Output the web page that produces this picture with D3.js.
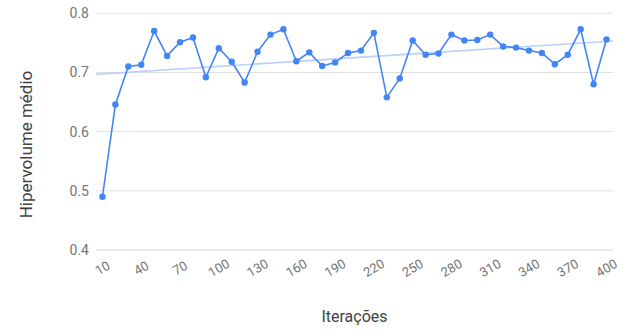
<!DOCTYPE html>
<html>
<head>
<meta charset="utf-8">
<script src="https://cdn.jsdelivr.net/npm/d3@7"></script>
<style>
  html, body { margin: 0; padding: 0; background: #fff; }
  svg { display: block; font-family: Roboto, "Noto Sans", Arial, sans-serif; }
</style>
</head>
<body>
<svg id="chart" width="626" height="331"></svg>
<script>
// Iteration counts (x categories)
const iterations = d3.range(10, 401, 10);

// Mean hypervolume per iteration
const hypervolume = [
  0.490, 0.646, 0.710, 0.713, 0.770, 0.728, 0.751, 0.759, 0.692, 0.741,
  0.718, 0.683, 0.735, 0.764, 0.773, 0.719, 0.734, 0.711, 0.717, 0.733,
  0.737, 0.767, 0.658, 0.690, 0.754, 0.730, 0.732, 0.764, 0.754, 0.755,
  0.764, 0.744, 0.742, 0.737, 0.733, 0.714, 0.730, 0.773, 0.680, 0.756
];

// Labels shown on the x axis (every third category)
const xTickLabels = [10, 40, 70, 100, 130, 160, 190, 220, 250, 280, 310, 340, 370, 400];

// Y axis ticks
const yTicks = [0.4, 0.5, 0.6, 0.7, 0.8];

const svg = d3.select("#chart");
const plot = { left: 96, right: 613, top: 13.3, bottom: 250 };

const x = d3.scaleBand().domain(iterations).range([plot.left, plot.right]);
const cx = d => x(d) + x.bandwidth() / 2;
const y = d3.scaleLinear().domain([0.4, 0.8]).range([plot.bottom, plot.top]);

// Gridlines
svg.append("g").selectAll("line").data(yTicks).join("line")
  .attr("x1", plot.left).attr("x2", plot.right)
  .attr("y1", d => y(d)).attr("y2", d => y(d))
  .attr("stroke", d => d === 0.4 ? "#d6d6d6" : "#e0e0e0")
  .attr("stroke-width", 1);

// Y axis labels
const yAxis = d3.axisLeft(y).tickValues(yTicks).tickFormat(d3.format(".1f")).tickSize(0).tickPadding(7);
const gy = svg.append("g").attr("transform", `translate(${plot.left},0)`).call(yAxis);
gy.select(".domain").remove();
gy.selectAll("text").attr("fill", "#757575").style("font-size", "14px")
  .style("font-family", "Roboto, sans-serif");

// X axis labels, slanted
const gx = svg.append("g");
gx.selectAll("text").data(xTickLabels).join("text")
  .attr("transform", d => `translate(${cx(d)},${268}) rotate(-30)`)
  .attr("text-anchor", "middle")
  .attr("dy", "0.35em")
  .attr("fill", "#757575")
  .style("font-size", "13px")
  .text(d => d);

// Linear trend (least squares over category index)
const n = hypervolume.length;
const idx = d3.range(n);
const mx = d3.mean(idx), my = d3.mean(hypervolume);
const slope = d3.sum(idx, i => (i - mx) * (hypervolume[i] - my)) / d3.sum(idx, i => (i - mx) ** 2);
const intercept = my - slope * mx;
const idxToX = d3.scaleLinear().domain([0, n - 1]).range([cx(iterations[0]), cx(iterations[n - 1])]);
const xToIdx = idxToX.invert;
svg.append("line")
  .attr("x1", plot.left).attr("x2", plot.right)
  .attr("y1", y(intercept + slope * xToIdx(plot.left)))
  .attr("y2", y(intercept + slope * xToIdx(plot.right)))
  .attr("stroke", "#b9d2fa").attr("stroke-width", 1.6);

// Series line
const data = iterations.map((it, i) => ({ it, v: hypervolume[i] }));
svg.append("path").datum(data)
  .attr("fill", "none").attr("stroke", "#4285f4").attr("stroke-width", 1.6)
  .attr("d", d3.line().x(d => cx(d.it)).y(d => y(d.v)));

// Points
svg.append("g").selectAll("circle").data(data).join("circle")
  .attr("cx", d => cx(d.it)).attr("cy", d => y(d.v)).attr("r", 3.2)
  .attr("fill", "#4285f4");

// Axis titles
svg.append("text")
  .attr("x", (plot.left + plot.right) / 2).attr("y", 322)
  .attr("text-anchor", "middle").attr("fill", "#424242")
  .style("font-size", "16px").text("Iterações");

svg.append("text")
  .attr("transform", `translate(32,144.5) rotate(-90)`)
  .attr("text-anchor", "middle").attr("fill", "#424242")
  .style("font-size", "17px").text("Hipervolume médio");
</script>
</body>
</html>
